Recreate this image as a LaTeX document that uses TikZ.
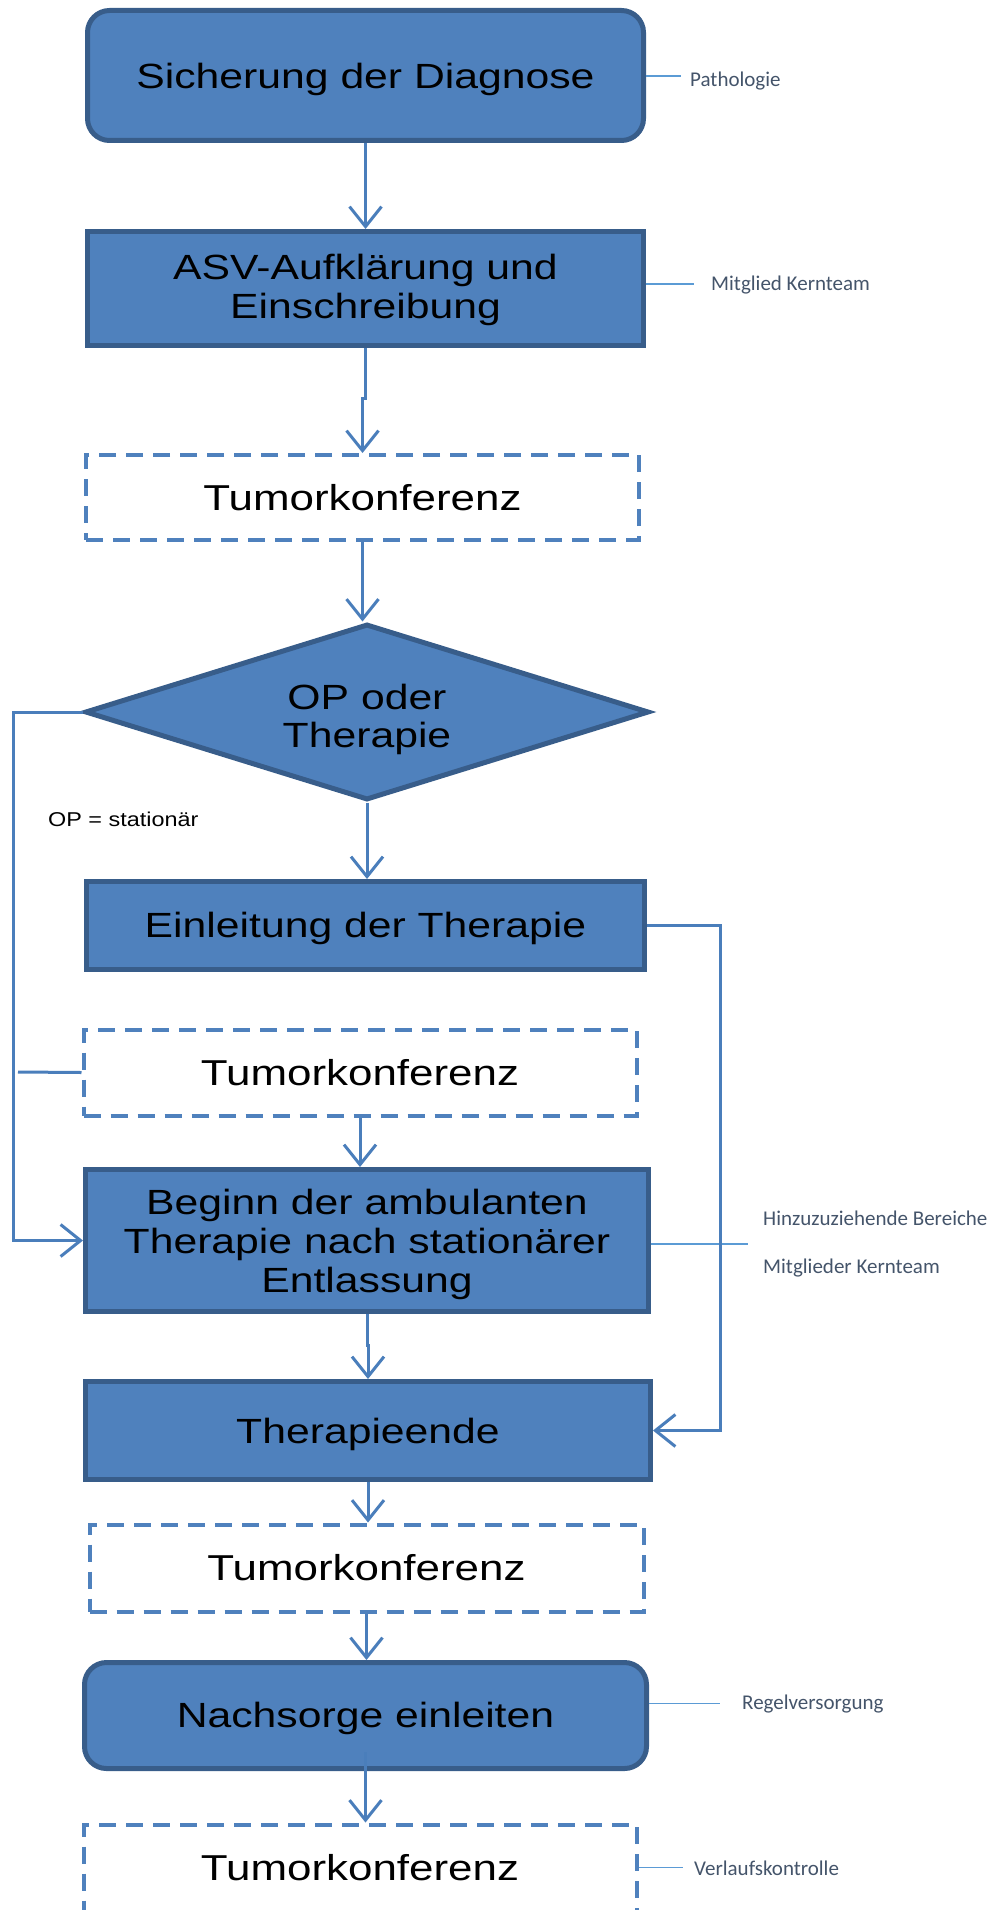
\documentclass[tikz,border=0pt]{standalone}
\usepackage{fontspec}
\setmainfont{Liberation Sans}
\newfontfamily\bfnt[FakeStretch=1.22]{Liberation Sans}
\newfontfamily\ofnt[FakeStretch=1.17]{Liberation Sans}
\newfontfamily\cfnt{Carlito}
\usetikzlibrary{arrows.meta,shapes.geometric}
\definecolor{boxfill}{RGB}{79,129,189}
\definecolor{boxline}{RGB}{56,93,138}
\definecolor{conncol}{RGB}{74,126,187}
\definecolor{lblcol}{RGB}{91,155,213}
\definecolor{lbltext}{RGB}{68,84,106}
\newcommand\lowtext[2]{\raisebox{-#1}[\height][\depth]{\begin{tabular}{@{}c@{}}#2\end{tabular}}}
\begin{document}
\begin{tikzpicture}[x=1pt,y=-1pt,
  solid box/.style={draw=boxline, fill=boxfill, line width=5pt, inner sep=0pt, align=center, font={\fontsize{35}{39}\bfnt}},
  round box/.style={solid box, rounded corners=22pt},
  dash box/.style={draw=boxfill, line width=4pt, dash pattern=on 17pt off 10pt, inner sep=0pt, font={\fontsize{36}{40}\bfnt}},
  decision/.style={diamond, draw=boxline, fill=boxfill, line width=5pt, inner sep=0pt, aspect=3.1, align=center, font={\fontsize{35}{38}\bfnt}},
  conn/.style={draw=conncol, line width=3pt, -{Straight Barb[length=20pt,width=32pt]}},
  lineonly/.style={draw=conncol, line width=3pt},
  labelline/.style={draw=lblcol, line width=1.5pt},
  lbl/.style={inner sep=0pt, anchor=base west, text=lbltext, font={\fontsize{21}{25}\cfnt}}
]
\useasboundingbox (0,0) rectangle (998,1910);

% main nodes
\node[round box, minimum width=556, minimum height=130] (n1) at (365.5,75.5) {\lowtext{5pt}{Sicherung der Diagnose}};
\node[solid box, minimum width=556, minimum height=114] (n2) at (365.5,288.5) {\lowtext{3pt}{ASV-Aufklärung und\\Einschreibung}};
\node[dash box, minimum width=553, minimum height=85] (t1) at (362.5,497.5) {Tumorkonferenz};
\node[decision, minimum width=564, minimum height=176] (d) at (367,712) {\lowtext{9pt}{OP oder\\Therapie}};
\node[solid box, minimum width=558, minimum height=88] (e) at (365.5,925.5) {\lowtext{4pt}{Einleitung der Therapie}};
\node[dash box, minimum width=553, minimum height=86] (t2) at (360,1072.5) {Tumorkonferenz};
\node[solid box, minimum width=563, minimum height=142] (b) at (367,1240.5) {\lowtext{5pt}{Beginn der ambulanten\\Therapie nach stationärer\\Entlassung}};
\node[solid box, minimum width=565, minimum height=98] (te) at (368,1430.5) {\lowtext{5pt}{Therapieende}};
\node[dash box, minimum width=554, minimum height=87] (t3) at (366.5,1568) {Tumorkonferenz};
\node[round box, minimum width=562, minimum height=106] (n8) at (365.5,1715.5) {\lowtext{4pt}{Nachsorge einleiten}};
\node[dash box, minimum width=553, minimum height=87] (t4) at (360,1868) {Tumorkonferenz};

% side labels
\node[lbl] (p) at (690,86.7) {Pathologie};
\node[lbl] (m) at (711,290) {Mitglied Kernteam};
\node[lbl] (h1) at (763,1225) {Hinzuzuziehende Bereiche};
\node[lbl] (h2) at (763,1273) {Mitglieder Kernteam};
\node[lbl] (r) at (742,1709) {Regelversorgung};
\node[lbl] (v) at (694,1875) {Verlaufskontrolle};
\node[inner sep=0pt, anchor=base west, font={\fontsize{20}{24}\ofnt}] (op) at (48,826) {OP = stationär};

% label lines
\coordinate (pe) at (681,76);
\coordinate (me) at (694,284);
\coordinate (he) at (748,1244);
\coordinate (re) at (720,1703.5);
\coordinate (ve) at (683,1867.5);
\draw[labelline] (n1.east |- pe) -- (pe);
\draw[labelline] (n2.east |- me) -- (me);
\draw[labelline] (b.east |- he) -- (he);
\draw[labelline] (n8.east |- re) -- (re);
\draw[labelline] (t4.east |- ve) -- (ve);

% connectors
\draw[conn] (n1.south) -- (n1.south |- n2.north);
\draw[conn] (n2.south) -- ++(0,50) -| (t1.north);
\draw[conn] (t1.south) -- (t1.south |- d.north);
\draw[conn] (d.south) -- (d.south |- e.north);
\coordinate (lc) at (13,712);
\draw[conn] (d.west) -- (lc) |- (b.west);
\coordinate (rc) at (720,925.5);
\draw[conn] (e.east) -- (rc) |- (te.east);
\coordinate (s2) at (18,1072);
\draw[lineonly] (s2) -- (t2.west);
\draw[conn] (t2.south) -- (t2.south |- b.north);
\draw[conn] (b.south) -- ++(0,31) -| (te.north);
\draw[conn] (te.south) -- (te.south |- t3.north);
\draw[conn] (t3.south) -- (t3.south |- n8.north);
\draw[conn] ([yshift=19pt]n8.south) -- (n8.south |- t4.north);
\end{tikzpicture}
\end{document}
